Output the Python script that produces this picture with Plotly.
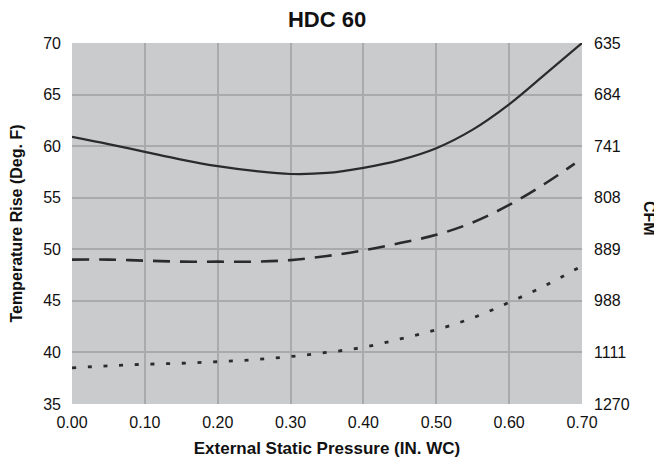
import plotly.graph_objects as go

# Data
pressure = [0.00, 0.05, 0.10, 0.15, 0.20, 0.25, 0.30, 0.35, 0.40, 0.45, 0.50, 0.55, 0.60, 0.65, 0.70]
temp_solid = [60.9, 60.2, 59.45, 58.7, 58.06, 57.6, 57.3, 57.4, 57.9, 58.65, 59.8, 61.6, 64.05, 67.0, 70.0]

pressure_dash = [0.00, 0.05, 0.10, 0.15, 0.20, 0.25, 0.30, 0.35, 0.40, 0.45, 0.50, 0.55, 0.60, 0.65, 0.69]
temp_dash = [49.0, 49.0, 48.9, 48.8, 48.8, 48.8, 48.95, 49.35, 49.9, 50.6, 51.4, 52.6, 54.3, 56.4, 58.3]

temp_dot = [38.5, 38.7, 38.85, 38.95, 39.1, 39.3, 39.6, 40.0, 40.5, 41.3, 42.2, 43.35, 44.85, 46.5, 48.4]

x_ticks = [0.00, 0.10, 0.20, 0.30, 0.40, 0.50, 0.60, 0.70]
x_ticktext = ["0.00", "0.10", "0.20", "0.30", "0.40", "0.50", "0.60", "0.70"]
temp_ticks = [35, 40, 45, 50, 55, 60, 65, 70]
cfm_ticktext = ["1270", "1111", "988", "889", "808", "741", "684", "635"]

FONT = "Liberation Sans, Arial, Helvetica, sans-serif"
LINE = "#2b2b2b"
TXT = "#111111"

# page body has an 8px margin, so the figure is drawn 8px smaller
W, H = 654, 458
L, R, T, B = 64, 80, 35, 62
PW, PH = W - L - R, H - T - B

fig = go.Figure()
fig.add_trace(go.Scatter(x=pressure, y=temp_solid, mode="lines",
                         line=dict(color=LINE, width=2.2, shape="spline"),
                         showlegend=False, hoverinfo="skip"))
fig.add_trace(go.Scatter(x=pressure_dash, y=temp_dash, mode="lines",
                         line=dict(color=LINE, width=2.6, shape="spline", dash="17px,10px"),
                         showlegend=False, hoverinfo="skip"))
fig.add_trace(go.Scatter(x=pressure, y=temp_dot, mode="lines",
                         line=dict(color=LINE, width=2.8, shape="spline", dash="4px,11.7px"),
                         showlegend=False, hoverinfo="skip"))
# invisible trace to carry the right-hand CFM axis
fig.add_trace(go.Scatter(x=pressure, y=temp_solid, yaxis="y2", mode="lines",
                         line=dict(width=0), opacity=0,
                         showlegend=False, hoverinfo="skip"))

grid = "#a9aaac"
fig.update_layout(
    width=W, height=H,
    margin=dict(l=L, r=R, t=T, b=B, autoexpand=False),
    paper_bgcolor="white",
    plot_bgcolor="#cacbcd",
    font=dict(family=FONT, color=TXT),
    title=dict(text="<b>HDC 60</b>", x=0.5, xref="paper", xanchor="center",
               y=1 - 11 / H, yanchor="middle",
               font=dict(size=22, family=FONT, color=TXT)),
    xaxis=dict(range=[0, 0.7], tickvals=x_ticks, ticktext=x_ticktext,
               showgrid=True, gridcolor=grid, gridwidth=1.5,
               zeroline=False, showline=False, ticks="", automargin=False,
               ticklabelstandoff=7,
               tickfont=dict(size=16, family=FONT, color=TXT),
               title=dict(text="<b>External Static Pressure (IN. WC)</b>",
                          font=dict(size=17, family=FONT, color=TXT),
                          standoff=12)),
    yaxis=dict(range=[35, 70], tickvals=temp_ticks,
               showgrid=True, gridcolor=grid, gridwidth=1.5,
               zeroline=False, showline=False, ticks="", automargin=False,
               ticklabelstandoff=10,
               tickfont=dict(size=16, family=FONT, color=TXT),
               title=dict(text="<b>Temperature Rise (Deg. F)</b>",
                          font=dict(size=16, family=FONT, color=TXT),
                          standoff=17)),
    yaxis2=dict(range=[35, 70], tickvals=temp_ticks, ticktext=cfm_ticktext,
                overlaying="y", side="right", showgrid=False,
                zeroline=False, showline=False, ticks="", automargin=False,
                ticklabelstandoff=11,
                tickfont=dict(size=16, family=FONT, color=TXT)),
    annotations=[dict(text="<b>CFM</b>", xref="paper", yref="paper",
                      x=(642 - L) / PW, y=(T + PH - 210) / PH,
                      xanchor="center", yanchor="middle", showarrow=False,
                      textangle=90,
                      font=dict(size=16, family=FONT, color=TXT))],
)

fig.write_html("out.html")
